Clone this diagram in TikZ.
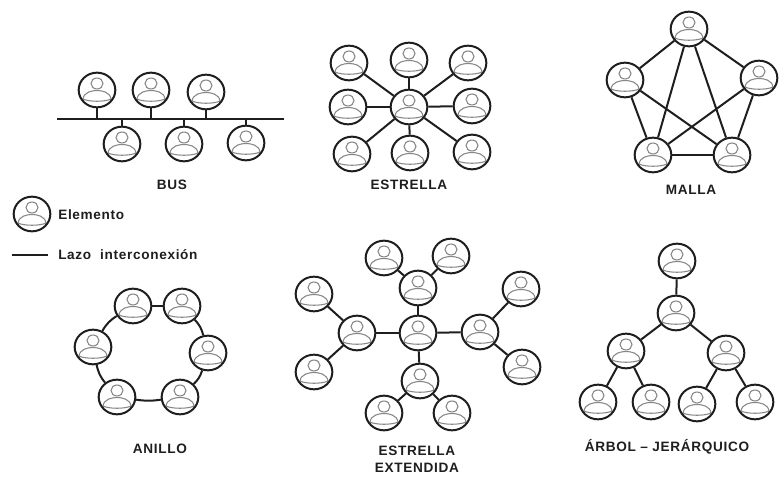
\documentclass[tikz,border=0pt]{standalone}
\usepackage{fontspec}
\setmainfont{Liberation Sans}[LetterSpace=5]
\usetikzlibrary{shapes.geometric}
\definecolor{ink}{RGB}{30,30,30}
\definecolor{figgray}{RGB}{135,135,135}
\tikzset{
  elem/.style={ellipse,draw=ink,line width=1.5pt,fill=white,minimum width=27.5pt,minimum height=26pt,inner sep=0pt,
    path picture={\begin{scope}[shift={(path picture bounding box.center)}]
      \draw[figgray,line width=0.8pt] (0,-6.5) ellipse (6 and 5.5);
      \draw[figgray,line width=0.8pt] (-14,15) -- (-14,9) .. controls (-13,2) and (-5,0.5) .. (0,0.5) .. controls (5,0.5) and (13,2) .. (14,9) -- (14,15);
      \draw[figgray,line width=0.8pt] (-14,9) .. controls (-8,12) and (8,12) .. (14,9);
    \end{scope}}},
  link/.style={draw=ink,line width=1.5pt},
  lab/.style={font=\bfseries\fontsize{10.2}{12}\selectfont,text=ink,inner sep=0pt}
}
\newcommand{\el}[3]{\node[elem] (#1) at (#2,#3) {};}
\begin{document}
\begin{tikzpicture}[x=0.75pt,y=-0.75pt]
\useasboundingbox (0,0) rectangle (781,477);
% BUS
\el{b1}{97}{90}\el{b2}{151}{90}\el{b3}{206}{92}\el{b4}{122}{144}\el{b5}{184}{144}\el{b6}{246}{143}
\coordinate (bl) at (57,119); \coordinate (br) at (284,119);
\draw[link] (bl) -- (br);
\foreach \n in {b1,b2,b3,b4,b5,b6} \draw[link] (\n) -- (\n |- bl);
\node[lab] (tbus) at (172,185) {BUS};
% ESTRELLA
\el{e0}{409}{107}\el{e1}{349}{63}\el{e2}{409}{60}\el{e3}{468}{63}\el{e4}{348}{107}\el{e5}{472}{106}\el{e6}{352}{154}\el{e7}{410}{153}\el{e8}{472}{152}
\foreach \n in {e1,e2,e3,e4,e5,e6,e7,e8} \draw[link] (e0) -- (\n);
\node[lab] (test) at (409,185) {ESTRELLA};
% MALLA
\el{m1}{689}{29}\el{m2}{625}{80}\el{m3}{759}{78}\el{m4}{653}{155}\el{m5}{732}{155}
\foreach \a/\b in {m1/m2,m1/m3,m1/m4,m1/m5,m2/m4,m2/m5,m3/m4,m3/m5,m4/m5} \draw[link] (\a) -- (\b);
\node[lab] (tmal) at (691,190) {MALLA};
% Legend
\el{l1}{32}{214}
\node[lab,anchor=west] (tl1) at (58,215) {Elemento};
\coordinate (l2a) at (12,255); \coordinate (l2b) at (48,255);
\draw[link] (l2a) -- (l2b);
\node[lab,anchor=west] (tl2) at (58,255) {Lazo\ \ interconexión};
% ANILLO
\el{a1}{133}{306}\el{a2}{182}{306}\el{a3}{208}{353}\el{a4}{180}{397}\el{a5}{117}{397}\el{a6}{93}{347}
\draw[link] (a1) -- (a2);
\draw[link] (a2) to[bend left=14] (a3);
\draw[link] (a3) to[bend left=14] (a4);
\draw[link] (a4) to[bend left=8] (a5);
\draw[link] (a5) to[bend left=14] (a6);
\draw[link] (a6) to[bend left=14] (a1);
\node[lab] (tani) at (160,449) {ANILLO};
% ESTRELLA EXTENDIDA
\el{x0}{418}{333}\el{x1}{357}{333}\el{x2}{480}{332}\el{x3}{418}{288}\el{x4}{420}{381}
\el{x5}{384}{258}\el{x6}{451}{256}\el{x7}{384}{413}\el{x8}{452}{413}
\el{x9}{314}{294}\el{x10}{314}{372}\el{x11}{521}{289}\el{x12}{522}{367}
\foreach \a/\b in {x0/x1,x0/x2,x0/x3,x0/x4,x3/x5,x3/x6,x4/x7,x4/x8,x1/x9,x1/x10,x2/x11,x2/x12} \draw[link] (\a) -- (\b);
\node[lab] (tee1) at (417,451) {ESTRELLA};
\node[lab] (tee2) at (417,468) {EXTENDIDA};
% ARBOL
\el{t1}{677}{261}\el{t2}{676}{313}\el{t3}{626}{351}\el{t4}{726}{353}\el{t5}{598}{402}\el{t6}{651}{402}\el{t7}{697}{404}\el{t8}{755}{402}
\foreach \a/\b in {t1/t2,t2/t3,t2/t4,t3/t5,t3/t6,t4/t7,t4/t8} \draw[link] (\a) -- (\b);
\node[lab] (tarb) at (667,447) {ÁRBOL – JERÁRQUICO};
\end{tikzpicture}
\end{document}
